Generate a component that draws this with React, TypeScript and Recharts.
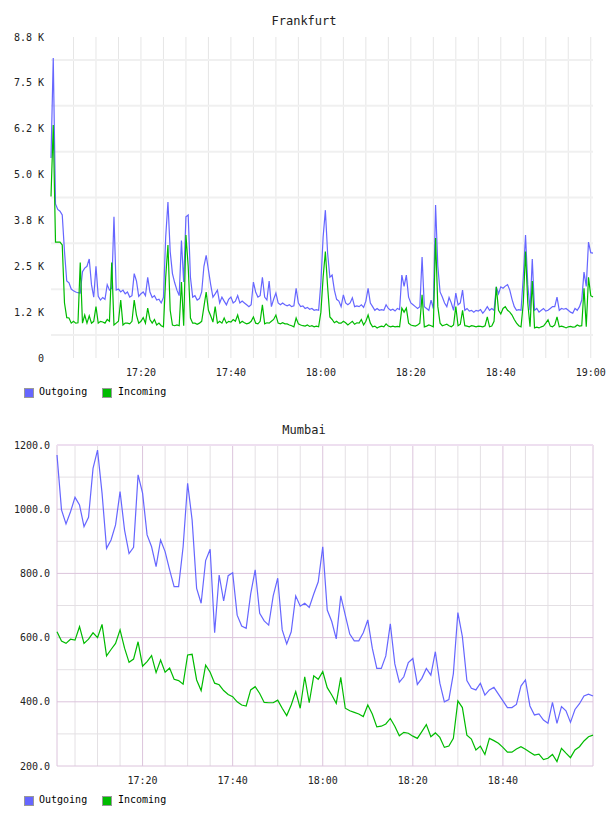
import { LineChart, Line, XAxis, YAxis, ReferenceLine } from 'recharts'

const FONT = '"DejaVu Sans Mono", monospace'
const BLUE = '#6666ff'
const GREEN = '#00bb00'

// Frankfurt: one sample every 30 s starting at 17:00
const frankfurtOutgoing = [
  5450, 8180, 4200, 4050, 4000, 3900, 2900, 2100, 2050, 1880,
  1830, 1800, 1780, 1770, 2350, 2450, 2500, 2700, 2000, 1660,
  2500, 1680, 1580, 1650, 1600, 2000, 1850, 1900, 3850, 1850,
  1880, 1800, 1850, 1750, 1800, 1660, 1700, 2300, 2100, 1680,
  1750, 1800, 1700, 2200, 1800, 1650, 1700, 1580, 1600, 1500,
  1650, 3300, 4250, 2900, 2300, 2050, 1850, 1700, 3200, 2070,
  3850, 3900, 2200, 1660, 1700, 1580, 1620, 1800, 2500, 2800,
  2400, 2000, 1660, 1750, 1850, 1500, 1660, 1550, 1450, 1600,
  1660, 1500, 1550, 1700, 1500, 1550, 1500, 1450, 1400, 1450,
  2070, 1800, 1660, 1700, 2200, 1660, 1580, 2100, 1400, 1600,
  1770, 1500, 1450, 1500, 1450, 1420, 1450, 1400, 1420, 1900,
  1500, 1400, 1420, 1350, 1380, 1330, 1350, 1300, 1320, 1300,
  2040, 3300, 4030, 2850, 2200, 2260, 1850, 1600, 1550, 1400,
  1720, 1500, 1450, 1500, 1640, 1400, 1420, 1400, 1450, 1380,
  1550, 1900, 1500, 1400, 1300, 1350, 1300, 1320, 1300, 1450,
  1350, 1300, 1330, 1280, 1350, 1320, 2260, 1950, 2260, 1660,
  1500, 1450, 1400, 1350, 1400, 2750, 1400, 1350, 1300, 1580,
  1350, 4170, 2500, 1800, 1660, 1500, 1400, 1650, 1500, 1300,
  1770, 1450, 1500, 1850, 1300, 1350, 1280, 1300, 1250, 1300,
  1280, 1320, 1220, 1300, 1400, 1300, 1350, 1300, 1940, 1750,
  1940, 1900, 1960, 2000, 1850, 1600, 1400, 1300, 1320, 1300,
  2200, 3350, 2000, 1300, 2700, 1300, 1350, 1250, 1300, 1350,
  1280, 1300, 1350, 1400, 1400, 1660, 1300, 1350, 1330, 1350,
  1300, 1250, 1220, 1350, 1300, 1400, 1580, 2340, 1950, 3160,
  2870, 2860,
]

const frankfurtIncoming = [
  4400, 6350, 3160, 3160, 3160, 3080, 1500, 1100, 1090, 950,
  1000, 950, 960, 2600, 950, 1170, 950, 1150, 950, 1000,
  1400, 950, 1000, 980, 950, 1050, 1000, 2600, 900, 950,
  1000, 1580, 900, 950, 950, 930, 1000, 1580, 1170, 950,
  1000, 1100, 950, 1360, 1050, 950, 1050, 900, 950, 880,
  850, 2200, 3080, 1300, 900, 880, 900, 880, 2070, 880,
  3350, 2500, 1090, 950, 950, 920, 950, 1000, 1400, 1800,
  1300, 1150, 980, 1400, 950, 1000, 950, 1090, 950, 1000,
  980, 1050, 1000, 1170, 950, 1000, 960, 930, 950, 1000,
  1120, 950, 930, 1000, 1450, 930, 960, 950, 1000, 1050,
  1170, 950, 930, 960, 930, 930, 900, 880, 850, 1090,
  930, 900, 880, 870, 900, 860, 880, 850, 870, 850,
  1250, 2200, 2900, 1940, 1120, 1050, 960, 1000, 950, 950,
  1000, 960, 900, 950, 1000, 920, 960, 950, 1050, 900,
  1000, 1170, 950, 850, 870, 820, 850, 870, 850, 930,
  870, 850, 870, 850, 860, 850, 1360, 1250, 1360, 950,
  900, 880, 870, 900, 950, 1720, 850, 870, 900, 880,
  850, 3270, 1400, 950, 880, 900, 920, 880, 850, 900,
  1400, 880, 920, 1300, 880, 870, 850, 880, 870, 850,
  870, 860, 850, 880, 1120, 850, 870, 1000, 1940, 1300,
  1200, 1350, 1400, 1300, 1250, 1170, 1050, 950, 880, 850,
  1500, 2900, 1500, 850, 2100, 820, 840, 820, 850, 870,
  950, 1040, 870, 850, 900, 1120, 850, 870, 850, 820,
  850, 860, 840, 850, 900, 870, 880, 1900, 850, 2200,
  1700, 1660,
]

const frankfurtYTicks = [0, 1250, 2500, 3750, 5000, 6250, 7500, 8750]
const frankfurtYLabels = ['0', '1.2 K', '2.5 K', '3.8 K', '5.0 K', '6.2 K', '7.5 K', '8.8 K']
const frankfurtHalfTicks = [625, 1875, 3125, 4375, 5625, 6875, 8125]

// Mumbai: one sample per minute starting at 17:01
const mumbaiOutgoing = [
  1169, 998, 954, 992, 1037, 1013, 946, 975, 1127, 1184,
  1050, 878, 904, 951, 1055, 935, 862, 881, 1107, 1050,
  920, 883, 821, 904, 868, 811, 759, 759, 883, 1081,
  966, 753, 707, 840, 875, 615, 795, 714, 793, 802,
  670, 636, 629, 736, 811, 676, 652, 639, 730, 785,
  624, 580, 618, 730, 698, 707, 694, 736, 774, 883,
  686, 650, 596, 730, 670, 611, 590, 590, 615, 655,
  567, 504, 504, 543, 643, 518, 461, 478, 522, 535,
  454, 473, 504, 483, 556, 458, 400, 407, 488, 678,
  603, 466, 442, 437, 458, 421, 437, 445, 424, 403,
  382, 382, 392, 449, 468, 387, 359, 362, 343, 333,
  398, 333, 385, 372, 336, 376, 394, 418, 424, 418,
]

const mumbaiIncoming = [
  618, 589, 582, 595, 592, 634, 582, 595, 615, 600,
  641, 543, 563, 582, 624, 567, 523, 533, 587, 511,
  525, 544, 491, 530, 492, 505, 470, 466, 455, 546,
  548, 468, 435, 514, 492, 458, 453, 435, 423, 416,
  400, 390, 387, 437, 447, 426, 398, 397, 397, 405,
  380, 357, 390, 432, 380, 478, 397, 481, 470, 494,
  444, 421, 395, 476, 380, 372, 367, 362, 354, 390,
  362, 322, 324, 331, 348, 324, 294, 305, 302, 293,
  286, 307, 329, 291, 303, 289, 258, 262, 286, 403,
  382, 296, 284, 250, 262, 236, 286, 279, 271, 258,
  243, 243, 253, 260, 252, 243, 234, 237, 220, 224,
  236, 214, 255, 240, 226, 250, 260, 278, 291, 296,
]

const mumbaiYTicks = [200, 400, 600, 800, 1000, 1200]
const mumbaiMinorY = [300, 500, 700, 900, 1100]

// minutes after 17:00
const fiveMinuteMarks = [5, 10, 15, 20, 25, 30, 35, 40, 45, 50, 55, 60, 65, 70, 75, 80, 85, 90, 95, 100, 105, 110, 115, 120]
const twentyMinuteMarks = [20, 40, 60, 80, 100, 120]
const timeLabels = ['17:20', '17:40', '18:00', '18:20', '18:40', '19:00']

const frankfurtData = frankfurtOutgoing.map((v, i) => ({ t: i * 0.5, out: v, inc: frankfurtIncoming[i] }))
const mumbaiData = mumbaiOutgoing.map((v, i) => ({ t: i + 1, out: v, inc: mumbaiIncoming[i] }))

const tickStyle = { fontSize: 10, fontFamily: FONT, fill: '#222' }
const timeLabel = (v: number) => timeLabels[twentyMinuteMarks.indexOf(v)] ?? ''

function Title({ text, top }: { text: string; top: number }) {
  return (
    <div style={{ position: 'absolute', left: 0, width: 608, top, textAlign: 'center', font: `12px ${FONT}`, color: '#222' }}>
      {text}
    </div>
  )
}

function Legend({ top }: { top: number }) {
  const box = { position: 'absolute' as const, top: 0, width: 8, height: 8, border: '1px solid #999' }
  const label = { position: 'absolute' as const, top: -2, font: `10px ${FONT}`, color: '#000', whiteSpace: 'nowrap' as const }
  return (
    <div style={{ position: 'absolute', left: 0, top, width: 608, height: 12 }}>
      <div style={{ ...box, left: 24, background: BLUE }} />
      <div style={{ ...label, left: 39 }}>Outgoing</div>
      <div style={{ ...box, left: 102, background: GREEN }} />
      <div style={{ ...label, left: 118 }}>Incoming</div>
    </div>
  )
}

function FrankfurtChart() {
  return (
    <LineChart width={608} height={390} data={frankfurtData} margin={{ top: 37, right: 15, left: 6, bottom: 0 }}>
      <XAxis
        dataKey="t"
        type="number"
        domain={[0, 120.5]}
        ticks={twentyMinuteMarks}
        tickFormatter={timeLabel}
        tick={tickStyle}
        tickLine={false}
        axisLine={false}
        tickSize={0}
        tickMargin={11}
        height={32}
      />
      <YAxis
        type="number"
        domain={[0, 8750]}
        ticks={frankfurtYTicks}
        tickFormatter={(v: number) => frankfurtYLabels[frankfurtYTicks.indexOf(v)]}
        tick={tickStyle}
        tickLine={false}
        axisLine={false}
        tickSize={0}
        tickMargin={7}
        width={45}
        interval={0}
      />
      {fiveMinuteMarks.map((m) => (
        <ReferenceLine key={`v${m}`} x={m} stroke="#e6e6e6" strokeWidth={1} />
      ))}
      {frankfurtHalfTicks.map((v) => (
        <ReferenceLine key={`h${v}`} y={v} stroke="#f0f0f0" strokeWidth={2} />
      ))}
      <Line type="linear" dataKey="out" stroke={BLUE} strokeWidth={1.2} dot={false} isAnimationActive={false} />
      <Line type="linear" dataKey="inc" stroke={GREEN} strokeWidth={1.2} dot={false} isAnimationActive={false} />
    </LineChart>
  )
}

function MumbaiChart() {
  return (
    <LineChart width={608} height={388} data={mumbaiData} margin={{ top: 35, right: 15, left: 7, bottom: 0 }}>
      <XAxis
        dataKey="t"
        type="number"
        domain={[1, 120]}
        ticks={twentyMinuteMarks.slice(0, 5)}
        tickFormatter={timeLabel}
        tick={tickStyle}
        tickLine={false}
        axisLine={false}
        tickSize={0}
        tickMargin={11}
        height={32}
      />
      <YAxis
        type="number"
        domain={[200, 1200]}
        ticks={mumbaiYTicks}
        tickFormatter={(v: number) => v.toFixed(1)}
        tick={tickStyle}
        tickLine={false}
        axisLine={false}
        tickSize={0}
        tickMargin={7}
        width={50}
        interval={0}
      />
      {fiveMinuteMarks.filter((m) => m % 20 !== 0).map((m) => (
        <ReferenceLine key={`v${m}`} x={m} stroke="#e4e0e4" strokeWidth={1} />
      ))}
      {mumbaiMinorY.map((v) => (
        <ReferenceLine key={`h${v}`} y={v} stroke="#e4e0e4" strokeWidth={1} />
      ))}
      {twentyMinuteMarks.map((m) => (
        <ReferenceLine key={`V${m}`} x={m} stroke="#dcc4dc" strokeWidth={1} />
      ))}
      {mumbaiYTicks.map((v) => (
        <ReferenceLine key={`H${v}`} y={v} stroke="#dcc4dc" strokeWidth={1} />
      ))}
      <ReferenceLine x={1} stroke="#dcc4dc" strokeWidth={1} />
      <ReferenceLine y={1200} stroke="#eedff0" strokeWidth={2} />
      <Line type="linear" dataKey="out" stroke={BLUE} strokeWidth={1.2} dot={false} isAnimationActive={false} />
      <Line type="linear" dataKey="inc" stroke={GREEN} strokeWidth={1.2} dot={false} isAnimationActive={false} />
    </LineChart>
  )
}

export default function App() {
  return (
    <div style={{ position: 'absolute', left: 0, top: 0, width: 608, height: 816, background: '#fff' }}>
      <Title text="Frankfurt" top={14} />
      <div style={{ position: 'absolute', left: 0, top: 0 }}>
        <FrankfurtChart />
      </div>
      <Legend top={388} />
      <Title text="Mumbai" top={423} />
      <div style={{ position: 'absolute', left: 0, top: 410 }}>
        <MumbaiChart />
      </div>
      <Legend top={796} />
    </div>
  )
}
